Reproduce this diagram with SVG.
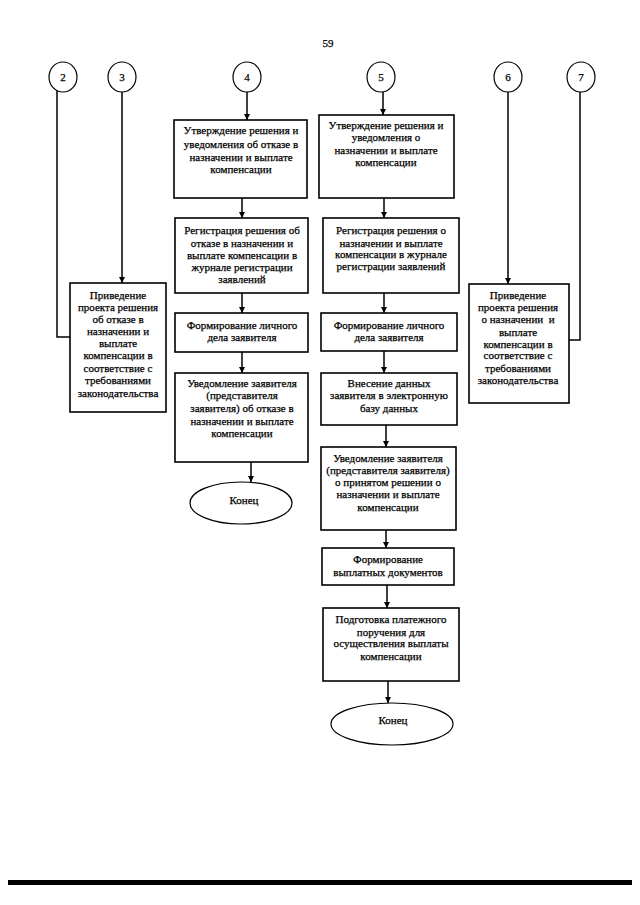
<svg xmlns="http://www.w3.org/2000/svg" width="640" height="905" viewBox="0 0 640 905">
<defs>
<marker id="ah" markerWidth="8" markerHeight="8" refX="6" refY="3" orient="auto" markerUnits="userSpaceOnUse">
<path d="M0,0 L6,3 L0,6 Z" fill="#000"/>
</marker>
<style>
.box{fill:#fff;stroke:#000;stroke-width:1.6}
.c{fill:#fff;stroke:#000;stroke-width:1.2}
.t{font-family:"Liberation Serif","Times New Roman",serif;font-size:11px;fill:#000;stroke:#000;stroke-width:0.25;text-anchor:middle}
.ln{fill:none;stroke:#000;stroke-width:1.5}
</style>
</defs>
<rect width="640" height="905" fill="#fff"/>
<text class="t" x="328" y="47">59</text>

<g id="connectors">
<path class="ln" d="M57,91 V337 H70"/>
<path class="ln" d="M122,92 V283" marker-end="url(#ah)"/>
<path class="ln" d="M247,92 V120" marker-end="url(#ah)"/>
<path class="ln" d="M242,198 V218" marker-end="url(#ah)"/>
<path class="ln" d="M242,293 V313" marker-end="url(#ah)"/>
<path class="ln" d="M242,352 V373" marker-end="url(#ah)"/>
<path class="ln" d="M251,462 V482" marker-end="url(#ah)"/>
<path class="ln" d="M383,92 V115" marker-end="url(#ah)"/>
<path class="ln" d="M384,198 V218" marker-end="url(#ah)"/>
<path class="ln" d="M384,293 V313" marker-end="url(#ah)"/>
<path class="ln" d="M384,351 V373" marker-end="url(#ah)"/>
<path class="ln" d="M386,425 V447" marker-end="url(#ah)"/>
<path class="ln" d="M386,530 V548" marker-end="url(#ah)"/>
<path class="ln" d="M387,585 V608" marker-end="url(#ah)"/>
<path class="ln" d="M388,681 V703" marker-end="url(#ah)"/>
<path class="ln" d="M508,92 V284" marker-end="url(#ah)"/>
<path class="ln" d="M580,92 V340 H569"/>
</g>

<g id="c2"><ellipse class="c" cx="63" cy="77" rx="14" ry="15"/><text class="t" x="63" y="81">2</text></g>
<g id="c3"><ellipse class="c" cx="122" cy="77" rx="14" ry="15"/><text class="t" x="122" y="81">3</text></g>
<g id="c4"><ellipse class="c" cx="247" cy="77" rx="14" ry="15"/><text class="t" x="247" y="81">4</text></g>
<g id="c5"><ellipse class="c" cx="381" cy="77" rx="14" ry="15"/><text class="t" x="381" y="81">5</text></g>
<g id="c6"><ellipse class="c" cx="508" cy="77" rx="14" ry="15"/><text class="t" x="508" y="81">6</text></g>
<g id="c7"><ellipse class="c" cx="581" cy="77" rx="14" ry="15"/><text class="t" x="581" y="81">7</text></g>

<g id="left">
<rect class="box" x="70" y="283" width="96" height="129"/>
<text class="t" x="118" y="299">Приведение</text>
<text class="t" x="118" y="311">проекта решения</text>
<text class="t" x="118" y="323">об отказе в</text>
<text class="t" x="118" y="335">назначении и</text>
<text class="t" x="118" y="347">выплате</text>
<text class="t" x="118" y="359">компенсации в</text>
<text class="t" x="118" y="372">соответствие с</text>
<text class="t" x="118" y="384">требованиями</text>
<text class="t" x="118" y="397">законодательства</text>
</g>

<g id="b4a">
<rect class="box" x="174" y="120" width="133" height="78"/>
<text class="t" x="241" y="134">Утверждение решения и</text>
<text class="t" x="241" y="148">уведомления об отказе в</text>
<text class="t" x="241" y="161">назначении и выплате</text>
<text class="t" x="241" y="173">компенсации</text>
</g>
<g id="b4b">
<rect class="box" x="175" y="218" width="133" height="75"/>
<text class="t" x="242" y="234">Регистрация решения об</text>
<text class="t" x="242" y="247">отказе в назначении и</text>
<text class="t" x="242" y="259">выплате компенсации в</text>
<text class="t" x="242" y="271">журнале регистрации</text>
<text class="t" x="242" y="283">заявлений</text>
</g>
<g id="b4c">
<rect class="box" x="175" y="313" width="133" height="39"/>
<text class="t" x="242" y="329">Формирование личного</text>
<text class="t" x="242" y="341">дела заявителя</text>
</g>
<g id="b4d">
<rect class="box" x="175" y="373" width="133" height="89"/>
<text class="t" x="242" y="387">Уведомление заявителя</text>
<text class="t" x="242" y="399">(представителя</text>
<text class="t" x="242" y="412">заявителя) об отказе в</text>
<text class="t" x="242" y="425">назначении и выплате</text>
<text class="t" x="242" y="437">компенсации</text>
</g>
<g id="end1">
<ellipse class="c" cx="241" cy="503" rx="51" ry="21"/>
<text class="t" x="244" y="504">Конец</text>
</g>

<g id="b5a">
<rect class="box" x="319" y="115" width="135" height="83"/>
<text class="t" x="386" y="129">Утверждение решения и</text>
<text class="t" x="386" y="141">уведомления о</text>
<text class="t" x="386" y="154">назначении и выплате</text>
<text class="t" x="386" y="166">компенсации</text>
</g>
<g id="b5b">
<rect class="box" x="323" y="218" width="136" height="75"/>
<text class="t" x="391" y="234">Регистрация решения о</text>
<text class="t" x="391" y="247">назначении и выплате</text>
<text class="t" x="391" y="258">компенсации в журнале</text>
<text class="t" x="391" y="270">регистрации заявлений</text>
</g>
<g id="b5c">
<rect class="box" x="321" y="313" width="136" height="38"/>
<text class="t" x="389" y="329">Формирование личного</text>
<text class="t" x="389" y="341">дела заявителя</text>
</g>
<g id="b5d">
<rect class="box" x="321" y="373" width="136" height="52"/>
<text class="t" x="389" y="387">Внесение данных</text>
<text class="t" x="389" y="399">заявителя в электронную</text>
<text class="t" x="389" y="412">базу данных</text>
</g>
<g id="b5e">
<rect class="box" x="321" y="447" width="135" height="83"/>
<text class="t" x="388" y="462">Уведомление заявителя</text>
<text class="t" x="388" y="474">(представителя заявителя)</text>
<text class="t" x="388" y="486">о принятом решении о</text>
<text class="t" x="388" y="498">назначении и выплате</text>
<text class="t" x="388" y="511">компенсации</text>
</g>
<g id="b5f">
<rect class="box" x="322" y="548" width="132" height="37"/>
<text class="t" x="388" y="563">Формирование</text>
<text class="t" x="388" y="576">выплатных документов</text>
</g>
<g id="b5g">
<rect class="box" x="323" y="608" width="136" height="73"/>
<text class="t" x="391" y="623">Подготовка платежного</text>
<text class="t" x="391" y="636">поручения для</text>
<text class="t" x="391" y="647">осуществления выплаты</text>
<text class="t" x="391" y="660">компенсации</text>
</g>
<g id="end2">
<ellipse class="c" cx="392" cy="724" rx="61" ry="21"/>
<text class="t" x="393" y="724">Конец</text>
</g>

<g id="right">
<rect class="box" x="469" y="284" width="100" height="119"/>
<text class="t" x="518" y="299">Приведение</text>
<text class="t" x="518" y="311">проекта решения</text>
<text class="t" x="518" y="323" xml:space="preserve">о назначении  и</text>
<text class="t" x="518" y="336">выплате</text>
<text class="t" x="518" y="348">компенсации в</text>
<text class="t" x="518" y="359">соответствие с</text>
<text class="t" x="518" y="372">требованиями</text>
<text class="t" x="518" y="384">законодательства</text>
</g>

<rect x="8" y="880" width="624" height="5" fill="#000"/>
</svg>
